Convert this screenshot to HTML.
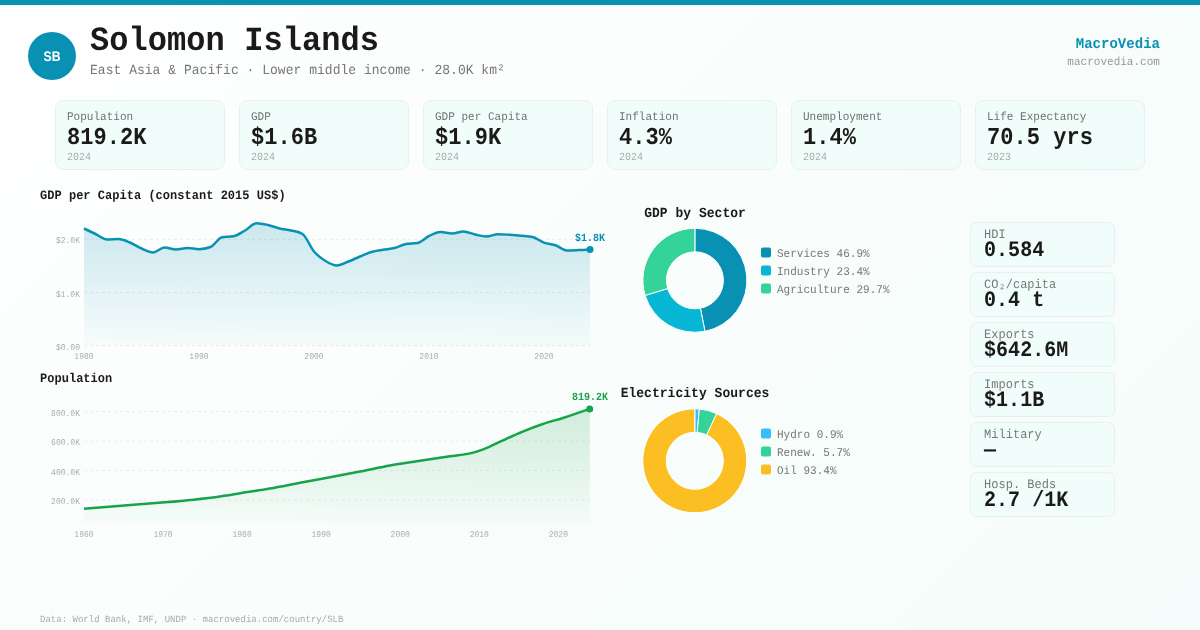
<!DOCTYPE html>
<html><head><meta charset="utf-8"><style>
html,body{margin:0;padding:0;width:1200px;height:630px;overflow:hidden}
body{background:linear-gradient(135deg,#ffffff 0%,#f9fdfc 50%,#f4fdfb 100%);font-family:"Liberation Mono",monospace}
svg{position:absolute;left:0;top:0;will-change:transform}
text{letter-spacing:0.002em}
</style></head><body>
<svg width="1200" height="630" viewBox="0 0 1200 630" font-family="Liberation Mono, monospace" text-rendering="geometricPrecision">
<defs>
<linearGradient id="gg" x1="0" y1="0" x2="0" y2="1"><stop offset="0" stop-color="#0891b2" stop-opacity="0.2"/><stop offset="1" stop-color="#0891b2" stop-opacity="0.02"/></linearGradient>
<linearGradient id="pg" x1="0" y1="0" x2="0" y2="1"><stop offset="0" stop-color="#16a34a" stop-opacity="0.18"/><stop offset="1" stop-color="#16a34a" stop-opacity="0.02"/></linearGradient>
</defs>
<rect x="0" y="0" width="1200" height="5" fill="#0891b2"/>
<circle cx="52" cy="56" r="24" fill="#0891b2"/>
<text transform="translate(52.1,60.8) scale(0.9,1.02)" font-family="Liberation Sans, sans-serif" font-size="13.6" font-weight="bold" fill="#fff" text-anchor="middle">SB</text>
<text transform="translate(90,50) scale(1,1.06)" font-size="32" fill="#1a1a1a" font-weight="bold">Solomon Islands</text>
<text transform="translate(90,73.7) scale(1,1.07)" font-size="13" fill="#777">East Asia &amp; Pacific · Lower middle income · 28.0K km²</text>
<text transform="translate(1160,48) scale(1,1.07)" font-size="14" fill="#0891b2" font-weight="bold" text-anchor="end">MacroVedia</text>
<text transform="translate(1160,65.3) scale(1,1.07)" font-size="11" fill="#999" text-anchor="end">macrovedia.com</text>
<rect x="55.5" y="100.5" width="169" height="69" rx="8" fill="#f0fdfa" stroke="#e9eeee"/><text transform="translate(67,119.7) scale(1,1.07)" font-size="11" fill="#707070">Population</text><text transform="translate(67,144) scale(1,1.1)" font-size="22" fill="#1a1a1a" font-weight="bold">819.2K</text><text transform="translate(67,160) scale(1,1.1)" font-size="10" fill="#aaa">2024</text><rect x="239.5" y="100.5" width="169" height="69" rx="8" fill="#f0fdfa" stroke="#e9eeee"/><text transform="translate(251,119.7) scale(1,1.07)" font-size="11" fill="#707070">GDP</text><text transform="translate(251,144) scale(1,1.1)" font-size="22" fill="#1a1a1a" font-weight="bold">$1.6B</text><text transform="translate(251,160) scale(1,1.1)" font-size="10" fill="#aaa">2024</text><rect x="423.5" y="100.5" width="169" height="69" rx="8" fill="#f0fdfa" stroke="#e9eeee"/><text transform="translate(435,119.7) scale(1,1.07)" font-size="11" fill="#707070">GDP per Capita</text><text transform="translate(435,144) scale(1,1.1)" font-size="22" fill="#1a1a1a" font-weight="bold">$1.9K</text><text transform="translate(435,160) scale(1,1.1)" font-size="10" fill="#aaa">2024</text><rect x="607.5" y="100.5" width="169" height="69" rx="8" fill="#f0fdfa" stroke="#e9eeee"/><text transform="translate(619,119.7) scale(1,1.07)" font-size="11" fill="#707070">Inflation</text><text transform="translate(619,144) scale(1,1.1)" font-size="22" fill="#1a1a1a" font-weight="bold">4.3%</text><text transform="translate(619,160) scale(1,1.1)" font-size="10" fill="#aaa">2024</text><rect x="791.5" y="100.5" width="169" height="69" rx="8" fill="#f0fdfa" stroke="#e9eeee"/><text transform="translate(803,119.7) scale(1,1.07)" font-size="11" fill="#707070">Unemployment</text><text transform="translate(803,144) scale(1,1.1)" font-size="22" fill="#1a1a1a" font-weight="bold">1.4%</text><text transform="translate(803,160) scale(1,1.1)" font-size="10" fill="#aaa">2024</text><rect x="975.5" y="100.5" width="169" height="69" rx="8" fill="#f0fdfa" stroke="#e9eeee"/><text transform="translate(987,119.7) scale(1,1.07)" font-size="11" fill="#707070">Life Expectancy</text><text transform="translate(987,144) scale(1,1.1)" font-size="22" fill="#1a1a1a" font-weight="bold">70.5 yrs</text><text transform="translate(987,160) scale(1,1.1)" font-size="10" fill="#aaa">2023</text>
<text transform="translate(40,198.7) scale(1,1.07)" font-size="12" fill="#1a1a1a" font-weight="bold">GDP per Capita (constant 2015 US$)</text>
<line x1="84" x2="590" y1="239.4" y2="239.4" stroke="#eaecef" stroke-dasharray="3,3"/><text transform="translate(80,243.4) scale(1,1.1)" font-size="8" fill="#aaa" text-anchor="end">$2.0K</text><line x1="84" x2="590" y1="292.6" y2="292.6" stroke="#eaecef" stroke-dasharray="3,3"/><text transform="translate(80,296.6) scale(1,1.1)" font-size="8" fill="#aaa" text-anchor="end">$1.0K</text><line x1="84" x2="590" y1="345.8" y2="345.8" stroke="#eaecef" stroke-dasharray="3,3"/><text transform="translate(80,349.8) scale(1,1.1)" font-size="8" fill="#aaa" text-anchor="end">$0.00</text><path d="M84.00,228.50C87.83,230.33,91.67,232.17,95.50,234.00C99.33,235.83,103.17,239.50,107.00,239.50C110.83,239.50,114.67,239.00,118.50,239.00C122.33,239.00,126.17,240.92,130.00,242.50C133.83,244.08,137.67,246.83,141.50,248.50C145.33,250.17,149.17,252.50,153.00,252.50C156.83,252.50,160.67,247.50,164.50,247.50C168.33,247.50,172.17,249.50,176.00,249.50C179.83,249.50,183.67,248.00,187.50,248.00C191.33,248.00,195.17,249.20,199.00,249.20C202.83,249.20,206.67,248.47,210.50,247.00C214.33,245.53,218.17,237.87,222.00,237.20C225.83,236.53,229.67,236.87,233.50,236.20C237.33,235.53,241.17,232.67,245.00,230.50C248.83,228.33,252.67,223.20,256.50,223.20C260.33,223.20,264.17,224.12,268.00,225.00C271.83,225.88,275.67,227.58,279.50,228.50C283.33,229.42,287.17,229.58,291.00,230.50C294.83,231.42,298.67,231.67,302.50,234.00C306.33,236.33,310.17,247.00,314.00,251.50C317.83,256.00,321.67,258.67,325.50,261.00C329.33,263.33,333.17,265.50,337.00,265.50C340.83,265.50,344.67,263.00,348.50,261.50C352.33,260.00,356.17,258.08,360.00,256.50C363.83,254.92,367.67,253.12,371.50,252.00C375.33,250.88,379.17,250.47,383.00,249.80C386.83,249.13,390.67,248.97,394.50,248.00C398.33,247.03,402.17,244.67,406.00,244.00C409.83,243.33,413.67,243.67,417.50,243.00C421.33,242.33,425.17,237.83,429.00,236.00C432.83,234.17,436.67,232.00,440.50,232.00C444.33,232.00,448.17,233.50,452.00,233.50C455.83,233.50,459.67,231.50,463.50,231.50C467.33,231.50,471.17,233.67,475.00,234.50C478.83,235.33,482.67,236.50,486.50,236.50C490.33,236.50,494.17,234.20,498.00,234.20C501.83,234.20,505.67,234.55,509.50,234.80C513.33,235.05,517.17,235.33,521.00,235.70C524.83,236.07,528.67,236.13,532.50,237.00C536.33,237.87,540.17,241.22,544.00,242.60C547.83,243.98,551.67,243.98,555.50,245.30C559.33,246.62,563.17,250.50,567.00,250.50C570.83,250.50,574.67,250.28,578.50,250.10C582.33,249.92,586.17,249.66,590.00,249.40L590,346L84,346Z" fill="url(#gg)"/><text transform="translate(84,359) scale(1,1.1)" font-size="8" fill="#aaa" text-anchor="middle">1980</text><text transform="translate(199,359) scale(1,1.1)" font-size="8" fill="#aaa" text-anchor="middle">1990</text><text transform="translate(314,359) scale(1,1.1)" font-size="8" fill="#aaa" text-anchor="middle">2000</text><text transform="translate(429,359) scale(1,1.1)" font-size="8" fill="#aaa" text-anchor="middle">2010</text><text transform="translate(544,359) scale(1,1.1)" font-size="8" fill="#aaa" text-anchor="middle">2020</text><path d="M84.00,228.50C87.83,230.33,91.67,232.17,95.50,234.00C99.33,235.83,103.17,239.50,107.00,239.50C110.83,239.50,114.67,239.00,118.50,239.00C122.33,239.00,126.17,240.92,130.00,242.50C133.83,244.08,137.67,246.83,141.50,248.50C145.33,250.17,149.17,252.50,153.00,252.50C156.83,252.50,160.67,247.50,164.50,247.50C168.33,247.50,172.17,249.50,176.00,249.50C179.83,249.50,183.67,248.00,187.50,248.00C191.33,248.00,195.17,249.20,199.00,249.20C202.83,249.20,206.67,248.47,210.50,247.00C214.33,245.53,218.17,237.87,222.00,237.20C225.83,236.53,229.67,236.87,233.50,236.20C237.33,235.53,241.17,232.67,245.00,230.50C248.83,228.33,252.67,223.20,256.50,223.20C260.33,223.20,264.17,224.12,268.00,225.00C271.83,225.88,275.67,227.58,279.50,228.50C283.33,229.42,287.17,229.58,291.00,230.50C294.83,231.42,298.67,231.67,302.50,234.00C306.33,236.33,310.17,247.00,314.00,251.50C317.83,256.00,321.67,258.67,325.50,261.00C329.33,263.33,333.17,265.50,337.00,265.50C340.83,265.50,344.67,263.00,348.50,261.50C352.33,260.00,356.17,258.08,360.00,256.50C363.83,254.92,367.67,253.12,371.50,252.00C375.33,250.88,379.17,250.47,383.00,249.80C386.83,249.13,390.67,248.97,394.50,248.00C398.33,247.03,402.17,244.67,406.00,244.00C409.83,243.33,413.67,243.67,417.50,243.00C421.33,242.33,425.17,237.83,429.00,236.00C432.83,234.17,436.67,232.00,440.50,232.00C444.33,232.00,448.17,233.50,452.00,233.50C455.83,233.50,459.67,231.50,463.50,231.50C467.33,231.50,471.17,233.67,475.00,234.50C478.83,235.33,482.67,236.50,486.50,236.50C490.33,236.50,494.17,234.20,498.00,234.20C501.83,234.20,505.67,234.55,509.50,234.80C513.33,235.05,517.17,235.33,521.00,235.70C524.83,236.07,528.67,236.13,532.50,237.00C536.33,237.87,540.17,241.22,544.00,242.60C547.83,243.98,551.67,243.98,555.50,245.30C559.33,246.62,563.17,250.50,567.00,250.50C570.83,250.50,574.67,250.28,578.50,250.10C582.33,249.92,586.17,249.66,590.00,249.40" fill="none" stroke="#0891b2" stroke-width="2.5" stroke-linejoin="round"/><circle cx="590" cy="249.4" r="3.5" fill="#0891b2"/><text transform="translate(590,241) scale(1,1.1)" font-size="10" fill="#0891b2" font-weight="bold" text-anchor="middle">$1.8K</text>
<text transform="translate(40,381.8) scale(1,1.07)" font-size="12" fill="#1a1a1a" font-weight="bold">Population</text>
<line x1="84" x2="590" y1="411.6" y2="411.6" stroke="#eaecef" stroke-dasharray="3,3"/><text transform="translate(80,415.6) scale(1,1.1)" font-size="8" fill="#aaa" text-anchor="end">800.0K</text><line x1="84" x2="590" y1="441.1" y2="441.1" stroke="#eaecef" stroke-dasharray="3,3"/><text transform="translate(80,445.1) scale(1,1.1)" font-size="8" fill="#aaa" text-anchor="end">600.0K</text><line x1="84" x2="590" y1="470.5" y2="470.5" stroke="#eaecef" stroke-dasharray="3,3"/><text transform="translate(80,474.5) scale(1,1.1)" font-size="8" fill="#aaa" text-anchor="end">400.0K</text><line x1="84" x2="590" y1="500" y2="500" stroke="#eaecef" stroke-dasharray="3,3"/><text transform="translate(80,504) scale(1,1.1)" font-size="8" fill="#aaa" text-anchor="end">200.0K</text><path d="M84.00,508.70C101.57,507.22,119.13,505.75,136.70,504.40C146.13,503.68,155.57,503.08,165.00,502.30C174.43,501.52,183.87,500.72,193.30,499.70C202.73,498.68,212.17,497.56,221.60,496.20C227.73,495.32,233.87,494.27,240.00,493.30C250.00,491.71,260.00,490.25,270.00,488.50C280.00,486.75,290.00,484.68,300.00,482.80C310.00,480.92,320.00,479.07,330.00,477.20C340.00,475.33,350.00,473.55,360.00,471.60C370.00,469.65,380.00,467.30,390.00,465.50C398.90,463.90,407.80,462.63,416.70,461.25C427.80,459.53,438.90,457.86,450.00,456.25C456.67,455.28,463.33,455.01,470.00,453.40C474.43,452.33,478.87,450.95,483.30,449.30C489.28,447.08,495.27,443.80,501.25,441.10C508.20,437.96,515.15,434.65,522.10,431.80C529.03,428.95,535.97,426.35,542.90,424.00C549.85,421.65,556.80,419.91,563.75,417.70C572.40,414.94,581.05,411.92,589.70,408.90L589.7,523.5L84,523.5Z" fill="url(#pg)"/><text transform="translate(84.0,536.8) scale(1,1.1)" font-size="8" fill="#aaa" text-anchor="middle">1960</text><text transform="translate(163.06,536.8) scale(1,1.1)" font-size="8" fill="#aaa" text-anchor="middle">1970</text><text transform="translate(242.12,536.8) scale(1,1.1)" font-size="8" fill="#aaa" text-anchor="middle">1980</text><text transform="translate(321.18,536.8) scale(1,1.1)" font-size="8" fill="#aaa" text-anchor="middle">1990</text><text transform="translate(400.24,536.8) scale(1,1.1)" font-size="8" fill="#aaa" text-anchor="middle">2000</text><text transform="translate(479.3,536.8) scale(1,1.1)" font-size="8" fill="#aaa" text-anchor="middle">2010</text><text transform="translate(558.36,536.8) scale(1,1.1)" font-size="8" fill="#aaa" text-anchor="middle">2020</text><path d="M84.00,508.70C101.57,507.22,119.13,505.75,136.70,504.40C146.13,503.68,155.57,503.08,165.00,502.30C174.43,501.52,183.87,500.72,193.30,499.70C202.73,498.68,212.17,497.56,221.60,496.20C227.73,495.32,233.87,494.27,240.00,493.30C250.00,491.71,260.00,490.25,270.00,488.50C280.00,486.75,290.00,484.68,300.00,482.80C310.00,480.92,320.00,479.07,330.00,477.20C340.00,475.33,350.00,473.55,360.00,471.60C370.00,469.65,380.00,467.30,390.00,465.50C398.90,463.90,407.80,462.63,416.70,461.25C427.80,459.53,438.90,457.86,450.00,456.25C456.67,455.28,463.33,455.01,470.00,453.40C474.43,452.33,478.87,450.95,483.30,449.30C489.28,447.08,495.27,443.80,501.25,441.10C508.20,437.96,515.15,434.65,522.10,431.80C529.03,428.95,535.97,426.35,542.90,424.00C549.85,421.65,556.80,419.91,563.75,417.70C572.40,414.94,581.05,411.92,589.70,408.90" fill="none" stroke="#16a34a" stroke-width="2.5" stroke-linejoin="round"/><circle cx="589.7" cy="408.9" r="3.5" fill="#16a34a"/><text transform="translate(590,400) scale(1,1.1)" font-size="10" fill="#16a34a" font-weight="bold" text-anchor="middle">819.2K</text>
<text transform="translate(695,216.7) scale(1,1.07)" font-size="13" fill="#1a1a1a" font-weight="bold" text-anchor="middle">GDP by Sector</text><path d="M694.90,228.30A52,52 0 0 1 704.96,331.32L700.42,308.26A28.5,28.5 0 0 0 694.90,251.80Z" fill="#0891b2" stroke="#fff" stroke-width="1"/><path d="M704.96,331.32A52,52 0 0 1 645.15,295.43L667.63,288.59A28.5,28.5 0 0 0 700.42,308.26Z" fill="#06b6d4" stroke="#fff" stroke-width="1"/><path d="M645.15,295.43A52,52 0 0 1 694.90,228.30L694.90,251.80A28.5,28.5 0 0 0 667.63,288.59Z" fill="#34d399" stroke="#fff" stroke-width="1"/><rect x="761" y="247.5" width="10" height="10" rx="2" fill="#0891b2"/><text transform="translate(777,256.6) scale(1,1.07)" font-size="11" fill="#777">Services 46.9%</text><rect x="761" y="265.5" width="10" height="10" rx="2" fill="#06b6d4"/><text transform="translate(777,274.6) scale(1,1.07)" font-size="11" fill="#777">Industry 23.4%</text><rect x="761" y="283.5" width="10" height="10" rx="2" fill="#34d399"/><text transform="translate(777,292.6) scale(1,1.07)" font-size="11" fill="#777">Agriculture 29.7%</text><text transform="translate(695,397.2) scale(1,1.07)" font-size="13" fill="#1a1a1a" font-weight="bold" text-anchor="middle">Electricity Sources</text><path d="M694.80,408.80A52,52 0 0 1 699.33,409.00L697.28,432.41A28.5,28.5 0 0 0 694.80,432.30Z" fill="#38bdf8" stroke="#fff" stroke-width="1"/><path d="M699.33,409.00A52,52 0 0 1 716.61,413.60L706.75,434.93A28.5,28.5 0 0 0 697.28,432.41Z" fill="#34d399" stroke="#fff" stroke-width="1"/><path d="M716.61,413.60A52,52 0 1 1 694.80,408.80L694.80,432.30A28.5,28.5 0 1 0 706.75,434.93Z" fill="#fbbf24" stroke="#fff" stroke-width="1"/><rect x="761" y="428.5" width="10" height="10" rx="2" fill="#38bdf8"/><text transform="translate(777,437.6) scale(1,1.07)" font-size="11" fill="#777">Hydro 0.9%</text><rect x="761" y="446.5" width="10" height="10" rx="2" fill="#34d399"/><text transform="translate(777,455.6) scale(1,1.07)" font-size="11" fill="#777">Renew. 5.7%</text><rect x="761" y="464.5" width="10" height="10" rx="2" fill="#fbbf24"/><text transform="translate(777,473.6) scale(1,1.07)" font-size="11" fill="#777">Oil 93.4%</text>
<rect x="970.5" y="222.5" width="144" height="44" rx="6" fill="#f0fdfa" stroke="#e9eeee"/><text transform="translate(984,237.6) scale(1,1.07)" font-size="12" fill="#777">HDI</text><text transform="translate(984,255.6) scale(1,1.1)" font-size="20" fill="#1a1a1a" font-weight="bold">0.584</text><rect x="970.5" y="272.5" width="144" height="44" rx="6" fill="#f0fdfa" stroke="#e9eeee"/><text transform="translate(984,287.6) scale(1,1.07)" font-size="12" fill="#777">CO₂/capita</text><text transform="translate(984,305.6) scale(1,1.1)" font-size="20" fill="#1a1a1a" font-weight="bold">0.4 t</text><rect x="970.5" y="322.5" width="144" height="44" rx="6" fill="#f0fdfa" stroke="#e9eeee"/><text transform="translate(984,337.6) scale(1,1.07)" font-size="12" fill="#777">Exports</text><text transform="translate(984,355.6) scale(1,1.1)" font-size="20" fill="#1a1a1a" font-weight="bold">$642.6M</text><rect x="970.5" y="372.5" width="144" height="44" rx="6" fill="#f0fdfa" stroke="#e9eeee"/><text transform="translate(984,387.6) scale(1,1.07)" font-size="12" fill="#777">Imports</text><text transform="translate(984,405.6) scale(1,1.1)" font-size="20" fill="#1a1a1a" font-weight="bold">$1.1B</text><rect x="970.5" y="422.5" width="144" height="44" rx="6" fill="#f0fdfa" stroke="#e9eeee"/><text transform="translate(984,437.6) scale(1,1.07)" font-size="12" fill="#777">Military</text><text transform="translate(984,455.6) scale(1,1.1)" font-size="20" fill="#1a1a1a" font-weight="bold">—</text><rect x="970.5" y="472.5" width="144" height="44" rx="6" fill="#f0fdfa" stroke="#e9eeee"/><text transform="translate(984,487.6) scale(1,1.07)" font-size="12" fill="#777">Hosp. Beds</text><text transform="translate(984,505.6) scale(1,1.1)" font-size="20" fill="#1a1a1a" font-weight="bold">2.7 /1K</text>
<text transform="translate(40,621.7) scale(1,1.07)" font-size="9" fill="#aaa">Data: World Bank, IMF, UNDP · macrovedia.com/country/SLB</text>
</svg>
</body></html>
